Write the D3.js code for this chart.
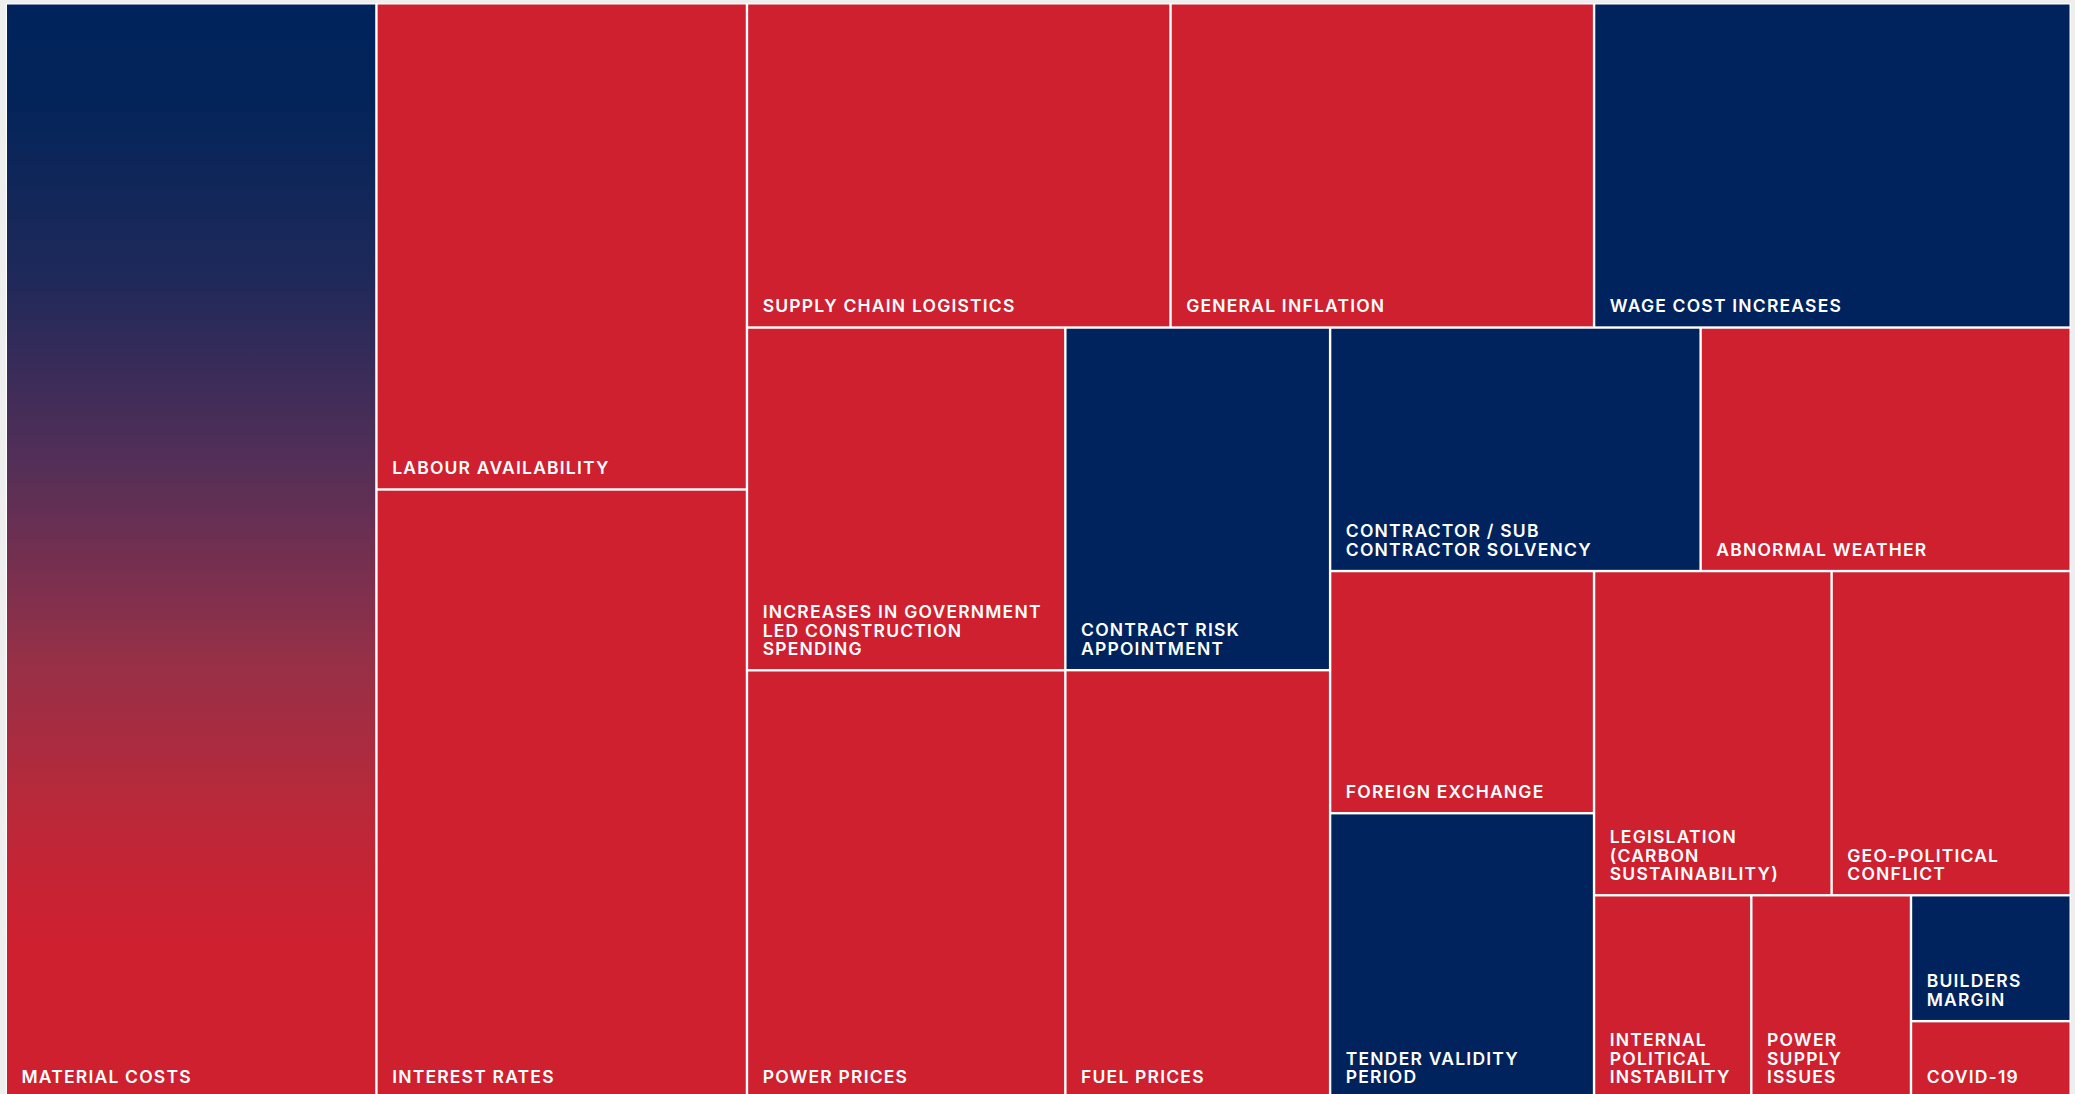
<!DOCTYPE html>
<html>
<head>
<meta charset="utf-8">
<script src="https://cdn.jsdelivr.net/npm/d3@7"></script>
<style>
  html, body { margin: 0; padding: 0; background: #eeeeee; overflow: hidden; }
  svg { display: block; }
</style>
</head>
<body>
<svg id="chart" width="2075" height="1094"></svg>
<script>
// ---- data ----
const categories = [
  "MATERIAL COSTS", "LABOUR AVAILABILITY", "INTEREST RATES",
  "SUPPLY CHAIN LOGISTICS", "GENERAL INFLATION", "WAGE COST INCREASES",
  "INCREASES IN GOVERNMENT LED CONSTRUCTION SPENDING", "POWER PRICES",
  "CONTRACT RISK APPOINTMENT", "FUEL PRICES",
  "CONTRACTOR / SUB CONTRACTOR SOLVENCY", "ABNORMAL WEATHER",
  "FOREIGN EXCHANGE", "TENDER VALIDITY PERIOD",
  "LEGISLATION (CARBON SUSTAINABILITY)", "GEO-POLITICAL CONFLICT",
  "INTERNAL POLITICAL INSTABILITY", "POWER SUPPLY ISSUES",
  "BUILDERS MARGIN", "COVID-19"
];
const labelLines = [
  ["MATERIAL COSTS"], ["LABOUR AVAILABILITY"], ["INTEREST RATES"],
  ["SUPPLY CHAIN LOGISTICS"], ["GENERAL INFLATION"], ["WAGE COST INCREASES"],
  ["INCREASES IN GOVERNMENT", "LED CONSTRUCTION", "SPENDING"], ["POWER PRICES"],
  ["CONTRACT RISK", "APPOINTMENT"], ["FUEL PRICES"],
  ["CONTRACTOR / SUB", "CONTRACTOR SOLVENCY"], ["ABNORMAL WEATHER"],
  ["FOREIGN EXCHANGE"], ["TENDER VALIDITY", "PERIOD"],
  ["LEGISLATION", "(CARBON", "SUSTAINABILITY)"], ["GEO-POLITICAL", "CONFLICT"],
  ["INTERNAL", "POLITICAL", "INSTABILITY"], ["POWER", "SUPPLY", "ISSUES"],
  ["BUILDERS", "MARGIN"], ["COVID-19"]
];
const values = [
  405.7, 180.1, 225.5,
  137.3, 137.3, 154.5,
  109.1, 136.2,
  90.7, 113.3,
  90.2, 90.1,
  63.9, 75.2,
  77.0, 77.5,
  31.9, 32.4,
  20.1, 12.3
];
const series = [
  "gradient", "red", "red",
  "red", "red", "navy",
  "red", "red",
  "navy", "red",
  "navy", "red",
  "red", "navy",
  "red", "red",
  "red", "red",
  "navy", "red"
];
// grouping of the tiles: "h" = side by side, "v" = stacked
const grouping = ["h", 0, ["v", 1, 2],
  ["v", ["h", 3, 4, 5],
        ["h", ["v", 6, 7], ["v", 8, 9],
              ["v", ["h", 10, 11],
                    ["h", ["v", 12, 13],
                          ["v", ["h", 14, 15],
                                ["h", 16, 17, ["v", 18, 19]]]]]]]];

// ---- styles ----
const NAVY = "#00235D", RED = "#CF2030";
const W = 2075, H = 1094;
const box = { x: 7, y: 4.5, w: 2062.5, h: 1092.5 };

function build(g) {
  if (typeof g === "number") {
    return { name: categories[g], lines: labelLines[g], value: values[g], kind: series[g] };
  }
  return { dir: g[0], children: g.slice(1).map(build) };
}

const root = d3.hierarchy(build(grouping)).sum(d => d.value || 0);

const tile = (node, x0, y0, x1, y1) => {
  (node.data.dir === "v" ? d3.treemapSlice : d3.treemapDice)(node, x0, y0, x1, y1);
};

d3.treemap()
  .tile(tile)
  .size([box.w, box.h])
  .paddingInner(2.4)(root);

const svg = d3.select("#chart");

const defs = svg.append("defs");
const grad = defs.append("linearGradient")
  .attr("id", "matGrad").attr("x1", 0).attr("y1", 0).attr("x2", 0).attr("y2", 1);
[[0, NAVY], [0.08, "#022459"], [0.25, "#1f295a"], [0.42, "#542f58"],
 [0.6, "#963047"], [0.74, "#bb2839"], [0.86, RED], [1, RED]]
  .forEach(([o, c]) => grad.append("stop").attr("offset", o).attr("stop-color", c));

svg.append("rect")
  .attr("x", box.x - 1.2).attr("y", box.y - 1.2)
  .attr("width", box.w + 2.4).attr("height", H)
  .attr("fill", "#ffffff");

const g = svg.append("g").attr("transform", `translate(${box.x},${box.y})`);

const leaves = g.selectAll("g.leaf").data(root.leaves()).join("g").attr("class", "leaf");

leaves.append("rect")
  .attr("x", d => d.x0).attr("y", d => d.y0)
  .attr("width", d => d.x1 - d.x0).attr("height", d => d.y1 - d.y0)
  .attr("fill", d => d.data.kind === "gradient" ? "url(#matGrad)" : (d.data.kind === "navy" ? NAVY : RED));

const LH = 18.5, PADX = 14.5, PADB = 14;
leaves.append("text")
  .attr("fill", "#ffffff")
  .attr("font-family", "Inter, Lato, 'Open Sans', sans-serif")
  .attr("font-weight", 600)
  .attr("font-size", 17.5)
  .attr("letter-spacing", 1.2)
  .each(function (d) {
    const n = d.data.lines.length;
    d3.select(this).selectAll("tspan").data(d.data.lines).join("tspan")
      .attr("x", d.x0 + PADX)
      .attr("y", (l, i) => d.y1 - PADB - (n - 1 - i) * LH)
      .text(l => l);
  });
</script>
</body>
</html>
